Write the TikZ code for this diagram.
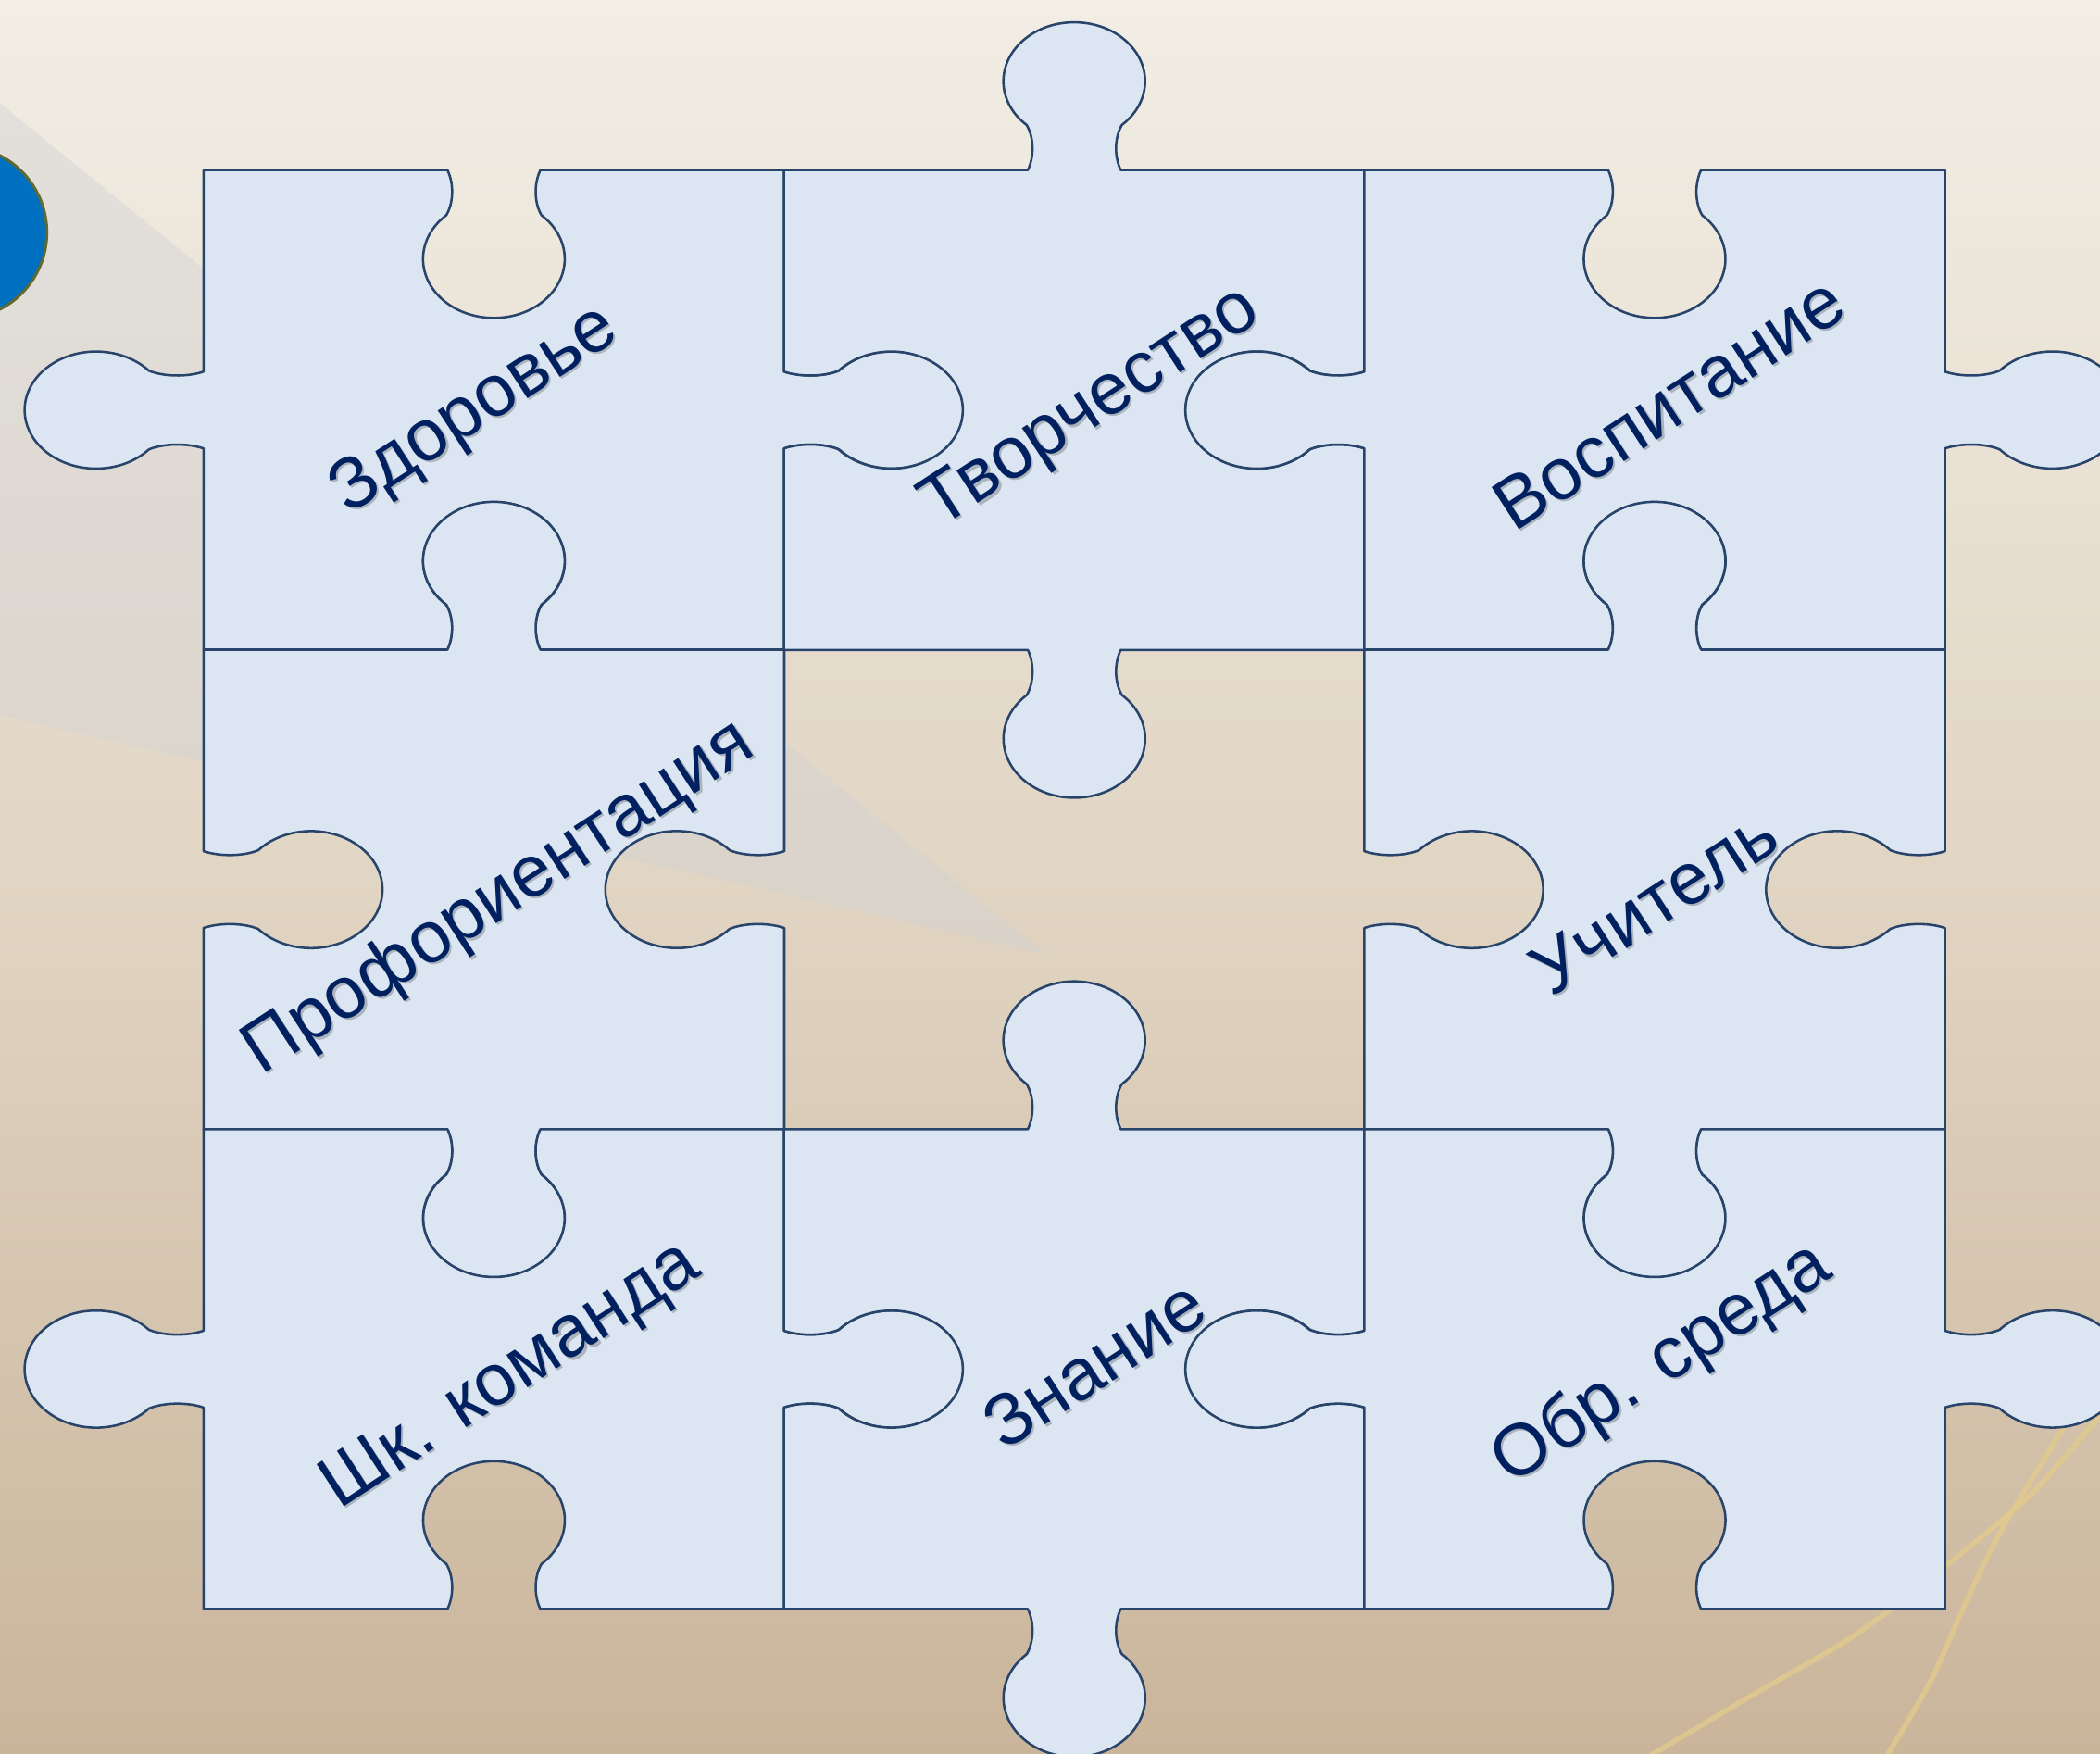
\documentclass[tikz,border=0pt]{standalone}
\usepackage{fontspec}
\setmainfont{Liberation Sans}
\definecolor{bgtop}{HTML}{F2EEE5}
\definecolor{bgmid}{HTML}{E1D5C3}
\definecolor{bgbot}{HTML}{CAB59B}
\definecolor{wedgec}{HTML}{D2D2D6}
\definecolor{piecefill}{HTML}{DCE6F2}
\definecolor{pieceline}{HTML}{28446A}
\definecolor{txt}{HTML}{002060}
\definecolor{circblue}{HTML}{0070C0}
\definecolor{circline}{HTML}{5E6A32}
\definecolor{goldline}{HTML}{E3CB8A}
\tikzset{
  piece/.style={fill=piecefill, draw=pieceline, line width=0.5pt, line join=round},
  lbl/.style={text=txt, font=\fontsize{15.5}{18}\selectfont, rotate=33, inner sep=0pt},
  lblshadow/.style={text=black, opacity=0.22, font=\fontsize{15.5}{18}\selectfont, rotate=33, inner sep=0pt},
  swoosh/.style={draw=goldline, line width=1.1pt, opacity=0.75, line cap=round},
}
% edges of a unit cell (u to the right, v downward); #1 = +1 tab, -1 blank
\newcommand\Tedge[3]{-- (0.42,0) .. controls (0.432,{-0.03*(#1)}) and (0.43,{-0.07*(#1)}) .. (0.418,{-0.094*(#1)})
  arc[start angle=#2, end angle=#3, x radius=0.122, y radius=0.123]
  .. controls (0.57,{-0.07*(#1)}) and (0.568,{-0.03*(#1)}) .. (0.58,0) -- (1,0)}
\newcommand\Redge[3]{-- (1,0.42) .. controls ({1+0.03*(#1)},0.432) and ({1+0.07*(#1)},0.43) .. ({1+0.094*(#1)},0.418)
  arc[start angle=#2, end angle=#3, x radius=0.123, y radius=0.122]
  .. controls ({1+0.07*(#1)},0.57) and ({1+0.03*(#1)},0.568) .. (1,0.58) -- (1,1)}
\newcommand\Bedge[3]{-- (0.58,1) .. controls (0.568,{1+0.03*(#1)}) and (0.57,{1+0.07*(#1)}) .. (0.582,{1+0.094*(#1)})
  arc[start angle=#2, end angle=#3, x radius=0.122, y radius=0.123]
  .. controls (0.43,{1+0.07*(#1)}) and (0.432,{1+0.03*(#1)}) .. (0.42,1) -- (0,1)}
\newcommand\Ledge[3]{-- (0,0.58) .. controls ({-0.03*(#1)},0.568) and ({-0.07*(#1)},0.57) .. ({-0.094*(#1)},0.582)
  arc[start angle=#2, end angle=#3, x radius=0.123, y radius=0.122]
  .. controls ({-0.07*(#1)},0.43) and ({-0.03*(#1)},0.432) .. (0,0.42)}
\newcommand\Ttab{\Tedge{1}{132.2}{407.8}}
\newcommand\Tblank{\Tedge{-1}{-132.2}{-407.8}}
\newcommand\Rtab{\Redge{1}{222.2}{497.8}}
\newcommand\Rblank{\Redge{-1}{-42.2}{-317.8}}
\newcommand\Btab{\Bedge{1}{312.2}{587.8}}
\newcommand\Bblank{\Bedge{-1}{47.8}{-227.8}}
\newcommand\Ltab{\Ledge{1}{42.2}{317.8}}
\newcommand\Lblank{\Ledge{-1}{137.8}{-137.8}}
\newcommand\pzpiece[6]{%
  \begin{scope}[shift={(#1,#2)}, x={(4.33333cm,0cm)}, y={(0cm,-3.58cm)}]
    \filldraw[piece] (0,0) #3 #4 #5 #6 -- cycle;
  \end{scope}}
\begin{document}
\begin{tikzpicture}[x=0.01cm, y=-0.01cm]
  \useasboundingbox (0,0) rectangle (1568,1309);
  % background
  \shade[top color=bgtop, bottom color=bgbot, middle color=bgmid] (0,0) rectangle (1568,1309);
  \fill[wedgec, opacity=0.42] (0,77) -- (780,712) -- (0,534) -- cycle;
  \draw[fill=circblue, draw=circline, line width=0.6pt] (-29.5,173.5) circle[radius=64.5];
  \draw[swoosh] plot[smooth] coordinates {(1556,1035) (1538,1070) (1495,1141) (1468,1196) (1441,1256) (1408,1312)};
  \draw[swoosh] plot[smooth] coordinates {(1572,1052) (1517,1115) (1454,1168) (1386,1220) (1304,1268) (1230,1312)};
  % puzzle pieces
  \pzpiece{152}{127}{\Tblank}{\Rtab}{\Bblank}{\Ltab}
  \pzpiece{585.333}{127}{\Ttab}{\Rblank}{\Btab}{\Lblank}
  \pzpiece{1018.667}{127}{\Tblank}{\Rtab}{\Bblank}{\Ltab}
  \pzpiece{152}{485}{\Ttab}{\Rblank}{\Btab}{\Lblank}
  \pzpiece{1018.667}{485}{\Ttab}{\Rblank}{\Btab}{\Lblank}
  \pzpiece{152}{843}{\Tblank}{\Rtab}{\Bblank}{\Ltab}
  \pzpiece{585.333}{843}{\Ttab}{\Rblank}{\Btab}{\Lblank}
  \pzpiece{1018.667}{843}{\Tblank}{\Rtab}{\Bblank}{\Ltab}
  % label shadows
  \node[lblshadow] (s1) at (356.5,308.5) {Здоровье};
  \node[lblshadow] (s2) at (816.5,307) {Творчество};
  \node[lblshadow] (s3) at (1247.5,302.5) {Воспитание};
  \node[lblshadow] (s4) at (374.5,672.5) {Профориентация};
  \node[lblshadow] (s6) at (1236.5,674.5) {Учитель};
  \node[lblshadow] (s7) at (383.5,1029.5) {Шк. команда};
  \node[lblshadow] (s8) at (818.5,1019.5) {Знание};
  \node[lblshadow] (s9) at (1242.5,1020.5) {Обр. среда};
  % labels
  \node[lbl] (t1) at (355,307) {Здоровье};
  \node[lbl] (t2) at (815,305.5) {Творчество};
  \node[lbl] (t3) at (1246,301) {Воспитание};
  \node[lbl] (t4) at (373,671) {Профориентация};
  \node[lbl] (t6) at (1235,673) {Учитель};
  \node[lbl] (t7) at (382,1028) {Шк. команда};
  \node[lbl] (t8) at (817,1018) {Знание};
  \node[lbl] (t9) at (1241,1019) {Обр. среда};
\end{tikzpicture}
\end{document}
